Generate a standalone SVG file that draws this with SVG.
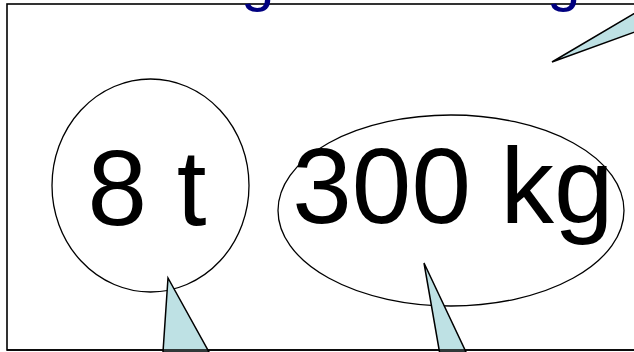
<svg xmlns="http://www.w3.org/2000/svg" width="634" height="352" viewBox="0 0 634 352">
<style>
.frame{fill:#fff;stroke:#000;stroke-width:1.6}
.bubble{fill:#fff;stroke:#000;stroke-width:1.3}
.ptr{fill:#BEE1E4;stroke:#000;stroke-width:1.5;stroke-linejoin:miter}
.big{font-family:"Liberation Sans",Arial,sans-serif;font-size:107px;fill:#000;text-anchor:middle}
.title{font-family:"Liberation Sans",Arial,sans-serif;font-size:60px;fill:#000080}
</style>
<rect class="frame" x="7" y="4" width="640" height="346"/>
<g id="title">
<text class="title" x="241" y="0">g</text>
<text class="title" x="547" y="0">g</text>
</g>
<g id="connectors">
<polygon class="ptr" points="552,62 640,10 640,30"/>
</g>
<g id="node-8t">
<ellipse class="bubble" cx="150.5" cy="185.5" rx="98.5" ry="106.5"/>
<text class="big" x="147" y="225">8 t</text>
</g>
<g id="node-300kg">
<ellipse class="bubble" cx="451" cy="210.5" rx="173" ry="95.5"/>
<text class="big" x="453" y="223">300 kg</text>
</g>
<g id="pointers">
<polygon class="ptr" points="168,278 163,352 209,352"/>
<polygon class="ptr" points="424,263 439.5,352 466,352"/>
</g>
<line x1="7" y1="350" x2="640" y2="350" stroke="#000" stroke-width="1.6"/>
</svg>
